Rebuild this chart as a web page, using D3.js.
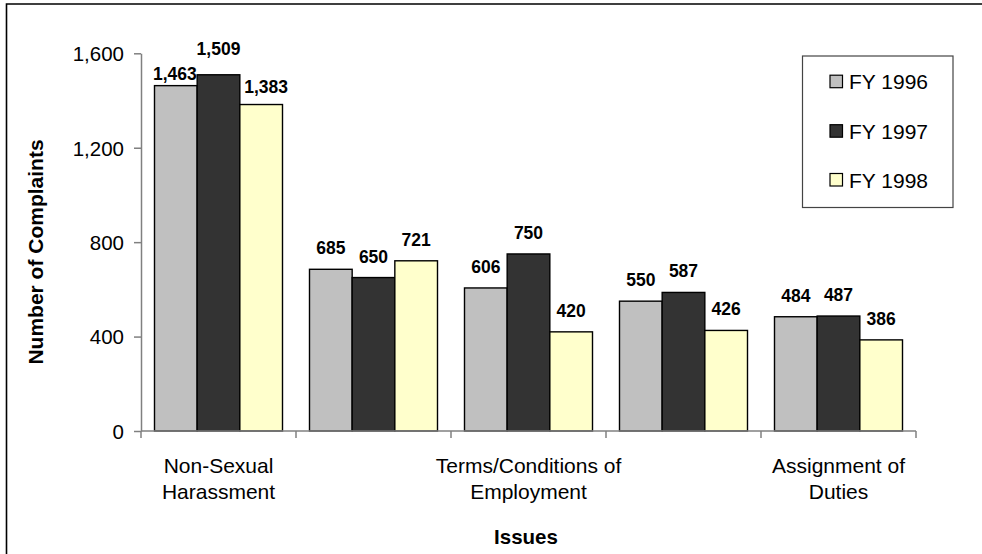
<!DOCTYPE html>
<html>
<head>
<meta charset="utf-8">
<script src="https://cdn.jsdelivr.net/npm/d3@7"></script>
<style>
  html, body { margin: 0; padding: 0; background: #fff; }
  svg { display: block; font-family: "Liberation Sans", Arial, sans-serif; }
</style>
</head>
<body>
<svg id="chart" width="982" height="554"></svg>
<script>
// ---- data ----
const categories = [
  "Non-Sexual Harassment",
  "Promotion/Non-Selection",
  "Terms/Conditions of Employment",
  "Reprisal",
  "Assignment of Duties"
];
// tick labels actually displayed (alternate ones skipped, as in the reference)
const categoryTickLabels = [
  ["Non-Sexual", "Harassment"],
  [],
  ["Terms/Conditions of", "Employment"],
  [],
  ["Assignment of", "Duties"]
];
const seriesNames = ["FY 1996", "FY 1997", "FY 1998"];
const fy1996 = [1463, 685, 606, 550, 484];
const fy1997 = [1509, 650, 750, 587, 487];
const fy1998 = [1383, 721, 420, 426, 386];
const yTicks = [0, 400, 800, 1200, 1600];

// ---- styles ----
const colors = ["#C0C0C0", "#333333", "#FFFFCC"];
const series = [fy1996, fy1997, fy1998];

const svg = d3.select("#chart");
const fmt = d3.format(",");

const plot = { left: 141, right: 916, top: 53.3, bottom: 431 };

const x0 = d3.scaleBand().domain(categories).range([plot.left, plot.right]).paddingInner(0).paddingOuter(0);
const x1 = d3.scaleBand().domain(seriesNames).range([13.5, x0.bandwidth() - 13.5]).paddingInner(0).paddingOuter(0);
const y = d3.scaleLinear().domain([0, 1600]).range([plot.bottom, plot.top]);

// outer frame (left and top edges visible)
svg.append("path")
  .attr("d", "M6.5,554 L6.5,4 L982,4")
  .attr("fill", "none").attr("stroke", "#000").attr("stroke-width", 1.6);

// bars
const groups = svg.append("g").selectAll("g")
  .data(categories).join("g")
  .attr("transform", d => `translate(${x0(d)},0)`);

groups.selectAll("rect")
  .data((c, ci) => seriesNames.map((s, si) => ({ s, si, v: series[si][ci], ci })))
  .join("rect")
  .attr("x", d => x1(d.s))
  .attr("y", d => y(d.v))
  .attr("width", x1.bandwidth())
  .attr("height", d => y(0) - y(d.v))
  .attr("fill", d => colors[d.si])
  .attr("stroke", "#000")
  .attr("stroke-width", 1.4);

// label nudges for the crowded first group (layout only)
const nudge = (ci, si) => {
  if (ci !== 0) return [0, 0];
  return [[-1, 9], [0, -5], [5, 3]][si];
};

groups.selectAll("text.val")
  .data((c, ci) => seriesNames.map((s, si) => ({ s, si, v: series[si][ci], ci })))
  .join("text")
  .attr("class", "val")
  .attr("x", d => x1(d.s) + x1.bandwidth() / 2 + nudge(d.ci, d.si)[0])
  .attr("y", d => y(d.v) - 15 + nudge(d.ci, d.si)[1])
  .attr("text-anchor", "middle")
  .attr("font-size", "17.5px")
  .attr("font-weight", "bold")
  .attr("fill", "#000")
  .text(d => fmt(d.v));

// y axis
const yAxis = d3.axisLeft(y).tickValues(yTicks).tickFormat(fmt).tickSize(7).tickSizeOuter(0);
const gy = svg.append("g").attr("transform", `translate(${plot.left},0)`).call(yAxis);
gy.select(".domain").attr("stroke", "#808080").attr("stroke-width", 1.5);
gy.selectAll(".tick line").attr("stroke", "#808080").attr("stroke-width", 1.5);
gy.selectAll(".tick text")
  .attr("font-size", "20.5px").attr("font-family", "Liberation Sans, Arial, sans-serif")
  .attr("fill", "#000").attr("x", -17).attr("dy", "0.36em");

// x axis with ticks at category boundaries
svg.append("line")
  .attr("x1", plot.left).attr("x2", plot.right)
  .attr("y1", plot.bottom).attr("y2", plot.bottom)
  .attr("stroke", "#808080").attr("stroke-width", 1.5);
const boundaries = categories.map(c => x0(c)).concat([x0(categories[categories.length - 1]) + x0.bandwidth()]);
svg.append("g").selectAll("line").data(boundaries).join("line")
  .attr("x1", d => d).attr("x2", d => d)
  .attr("y1", plot.bottom).attr("y2", plot.bottom + 7)
  .attr("stroke", "#808080").attr("stroke-width", 1.5);

// category labels
const catLabels = svg.append("g").selectAll("text")
  .data(categories.map((c, i) => ({ c, lines: categoryTickLabels[i] })))
  .join("text")
  .attr("text-anchor", "middle")
  .attr("font-size", "21px")
  .attr("fill", "#000")
  .attr("transform", d => `translate(${x0(d.c) + x0.bandwidth() / 2},0)`);
catLabels.selectAll("tspan").data(d => d.lines).join("tspan")
  .attr("x", 0)
  .attr("y", (d, i) => 472.5 + i * 26.5)
  .text(d => d);

// axis titles
svg.append("text")
  .attr("x", 526).attr("y", 544)
  .attr("text-anchor", "middle")
  .attr("font-size", "20.5px").attr("font-weight", "bold")
  .text("Issues");

svg.append("text")
  .attr("transform", `translate(43,252) rotate(-90)`)
  .attr("text-anchor", "middle")
  .attr("font-size", "21px").attr("font-weight", "bold")
  .text("Number of Complaints");

// legend
const lg = svg.append("g");
lg.append("rect")
  .attr("x", 802.5).attr("y", 56).attr("width", 150.5).attr("height", 151.5)
  .attr("fill", "#fff").attr("stroke", "#444").attr("stroke-width", 1.2);
const rows = lg.selectAll("g.row").data(seriesNames).join("g")
  .attr("class", "row")
  .attr("transform", (d, i) => `translate(0,${[81.7, 131.2, 180][i]})`);
rows.append("rect")
  .attr("x", 830).attr("y", -6.5).attr("width", 12.5).attr("height", 12.5)
  .attr("fill", (d, i) => colors[i]).attr("stroke", "#000").attr("stroke-width", 1.2);
rows.append("text")
  .attr("x", 849).attr("y", 0).attr("dy", "0.36em")
  .attr("font-size", "21px").attr("fill", "#000")
  .text(d => d);
</script>
</body>
</html>
